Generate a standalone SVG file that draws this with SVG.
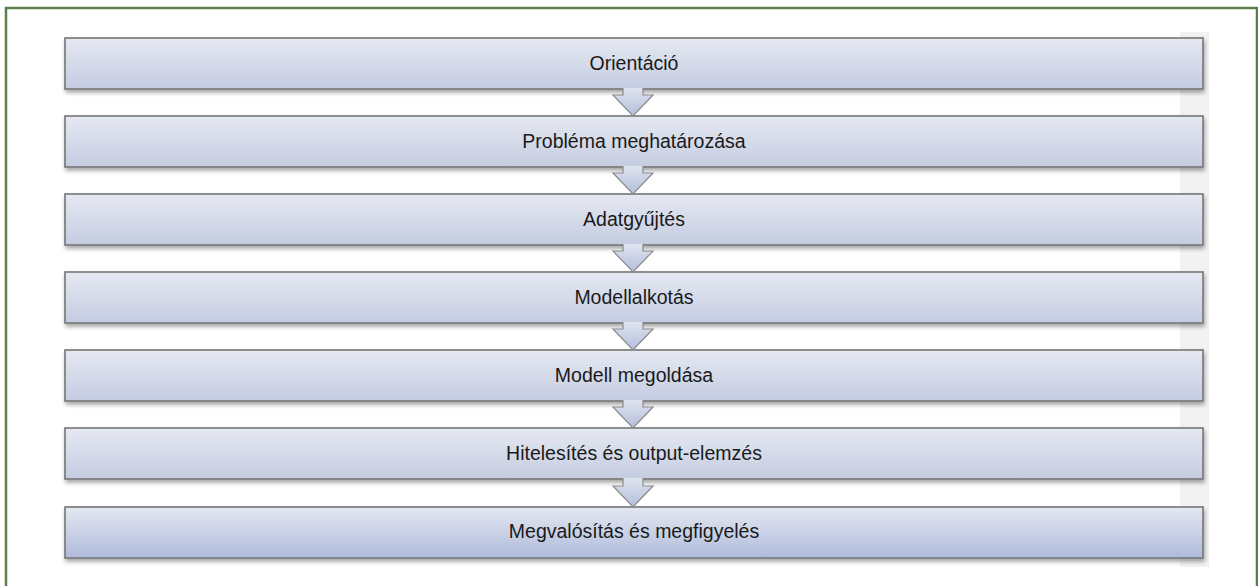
<svg xmlns="http://www.w3.org/2000/svg" width="1258" height="586" viewBox="0 0 1258 586">
<defs>
<linearGradient id="gBox" x1="0" y1="0" x2="0" y2="1">
<stop offset="0" stop-color="#e6e9f2"/>
<stop offset="1" stop-color="#c4cce1"/>
</linearGradient>
<linearGradient id="gBoxLast" x1="0" y1="0" x2="0" y2="1">
<stop offset="0" stop-color="#e4e8f1"/>
<stop offset="1" stop-color="#afbbdb"/>
</linearGradient>
<linearGradient id="gArrow" x1="0" y1="0" x2="0" y2="1">
<stop offset="0" stop-color="#dfe4ef"/>
<stop offset="1" stop-color="#b3bedb"/>
</linearGradient>
<filter id="shadow" x="-2%" y="-20%" width="104%" height="160%">
<feGaussianBlur in="SourceAlpha" stdDeviation="2"/>
<feOffset dx="1" dy="3" result="b"/>
<feComponentTransfer><feFuncA type="linear" slope="0.35"/></feComponentTransfer>
<feMerge><feMergeNode/><feMergeNode in="SourceGraphic"/></feMerge>
</filter>
<style>
.box{stroke:#767676;stroke-width:1.6;filter:url(#shadow);}
.lbl{font-family:"Liberation Sans",Arial,sans-serif;font-size:19.5px;fill:#1a1a1a;text-anchor:middle;}
.arr{fill:url(#gArrow);stroke:#8a8a8a;stroke-width:1.2;stroke-linejoin:miter;}
</style>
</defs>
<rect x="0" y="0" width="1258" height="586" fill="#ffffff"/>
<rect x="6" y="8" width="1251" height="600" fill="none" stroke="#5b7f4b" stroke-width="2.5"/>
<rect x="1180" y="32" width="29" height="535" fill="#f2f2f2"/>

<g id="node1"><rect class="box" x="65" y="38" width="1138" height="51" fill="url(#gBox)"/><text class="lbl" x="634" y="70">Orientáció</text></g>
<g id="node2"><rect class="box" x="65" y="116" width="1138" height="51" fill="url(#gBox)"/><text class="lbl" x="634" y="148">Probléma meghatározása</text></g>
<g id="node3"><rect class="box" x="65" y="194" width="1138" height="51" fill="url(#gBox)"/><text class="lbl" x="634" y="226">Adatgyűjtés</text></g>
<g id="node4"><rect class="box" x="65" y="272" width="1138" height="51" fill="url(#gBox)"/><text class="lbl" x="634" y="304">Modellalkotás</text></g>
<g id="node5"><rect class="box" x="65" y="350" width="1138" height="51" fill="url(#gBox)"/><text class="lbl" x="634" y="382">Modell megoldása</text></g>
<g id="node6"><rect class="box" x="65" y="428" width="1138" height="51" fill="url(#gBox)"/><text class="lbl" x="634" y="460">Hitelesítés és output-elemzés</text></g>
<g id="node7"><rect class="box" x="65" y="507" width="1138" height="51" fill="url(#gBoxLast)"/><text class="lbl" x="634" y="538">Megvalósítás és megfigyelés</text></g>

<g id="connectors">
<path class="arr" d="M623,88 L623,95 L613,95 L633,116 L653,95 L643,95 L643,88"/>
<path class="arr" d="M623,166 L623,173 L613,173 L633,194 L653,173 L643,173 L643,166"/>
<path class="arr" d="M623,244 L623,251 L613,251 L633,272 L653,251 L643,251 L643,244"/>
<path class="arr" d="M623,322 L623,329 L613,329 L633,350 L653,329 L643,329 L643,322"/>
<path class="arr" d="M623,400 L623,407 L613,407 L633,428 L653,407 L643,407 L643,400"/>
<path class="arr" d="M623,478 L623,486 L613,486 L633,507 L653,486 L643,486 L643,478"/>
</g>
</svg>
